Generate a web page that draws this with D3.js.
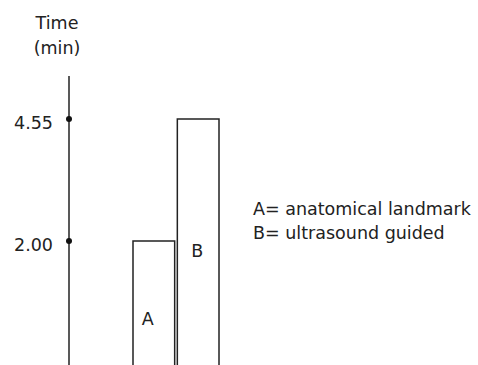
<!DOCTYPE html>
<html>
<head>
<meta charset="utf-8">
<script src="https://cdn.jsdelivr.net/npm/d3@7"></script>
<style>
  body { margin: 0; background: #fff; }
  text { font-family: "DejaVu Sans", Verdana, sans-serif; fill: #222; }
</style>
</head>
<body>
<div id="chart"></div>
<script>
// DATA
const groups = ["A", "B"];
const times = [2.00, 4.55];
const tickValues = [2.00, 4.55];
const legendLines = ["A= anatomical landmark", "B= ultrasound guided"];

const width = 478, height = 365;
const fontSize = "17.5px";

const svg = d3.select("#chart")
    .append("svg")
    .attr("width", width)
    .attr("height", height);

// SCALES (chart is cropped at the bottom, bars run off the edge)
const y = d3.scaleLinear()
    .domain([2.00, 4.55])
    .range([241, 119]);

const x = d3.scaleBand()
    .domain(groups)
    .range([133, 219])
    .paddingInner(0.06);

// BARS
svg.selectAll("rect.bar")
    .data(groups)
    .enter()
    .append("rect")
    .attr("class", "bar")
    .attr("x", d => x(d))
    .attr("y", (d, i) => y(times[i]))
    .attr("width", x.bandwidth())
    .attr("height", (d, i) => height + 5 - y(times[i]))
    .attr("fill", "#fff")
    .attr("stroke", "#222")
    .attr("stroke-width", 1.5);

// bar letters (A sits a little left of centre in the original)
const letterFrac = [0.68, 0.56];
const letterShift = [-6, -1];
svg.selectAll("text.letter")
    .data(groups)
    .enter()
    .append("text")
    .attr("class", "letter")
    .attr("x", (d, i) => x(d) + x.bandwidth() / 2 + letterShift[i])
    .attr("y", (d, i) => y(times[i]) + (height - y(times[i])) * letterFrac[i])
    .attr("text-anchor", "middle")
    .attr("font-size", fontSize)
    .text(d => d);

// Y AXIS
svg.append("line")
    .attr("x1", 69).attr("x2", 69)
    .attr("y1", 76).attr("y2", height)
    .attr("stroke", "#222")
    .attr("stroke-width", 1.5);

const axis = svg.append("g")
    .attr("transform", "translate(69,0)")
    .call(d3.axisLeft(y)
        .tickValues(tickValues)
        .tickFormat(d3.format(".2f"))
        .tickSize(0)
        .tickPadding(16));
axis.select(".domain").remove();
axis.selectAll("text")
    .attr("font-size", fontSize)
    .attr("font-family", "DejaVu Sans, Verdana, sans-serif")
    .attr("fill", "#222")
    .attr("dy", "0.55em");

svg.selectAll("circle.tick")
    .data(tickValues)
    .enter()
    .append("circle")
    .attr("cx", 69)
    .attr("cy", d => y(d))
    .attr("r", 3)
    .attr("fill", "#111");

// axis title
svg.append("text")
    .attr("x", 57).attr("y", 29)
    .attr("text-anchor", "middle")
    .attr("font-size", fontSize)
    .text("Time");
svg.append("text")
    .attr("x", 57).attr("y", 54)
    .attr("text-anchor", "middle")
    .attr("font-size", fontSize)
    .text("(min)");

// LEGEND
svg.selectAll("text.legend")
    .data(legendLines)
    .enter()
    .append("text")
    .attr("class", "legend")
    .attr("x", 253)
    .attr("y", (d, i) => 215 + i * 24)
    .attr("font-size", fontSize)
    .text(d => d);
</script>
</body>
</html>
